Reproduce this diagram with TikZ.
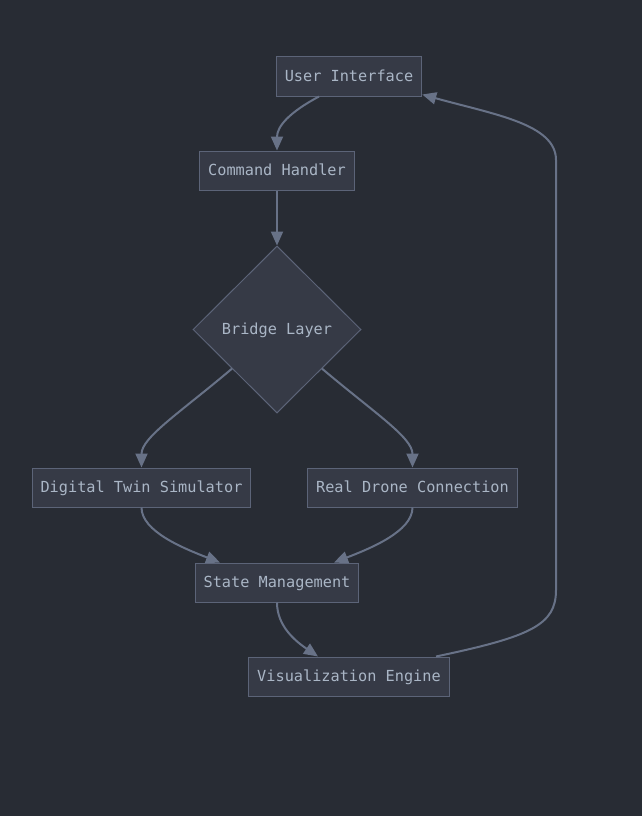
\documentclass[tikz,border=0pt]{standalone}
\usepackage{fontspec}
\setmonofont{DejaVu Sans Mono}
\usetikzlibrary{shapes.geometric, arrows.meta}
\definecolor{bgcol}{HTML}{282C34}
\definecolor{boxfill}{HTML}{363A46}
\definecolor{boxline}{HTML}{5C6478}
\definecolor{txtcol}{HTML}{AAB6C6}
\definecolor{edgecol}{HTML}{687287}

\begin{document}
\begin{tikzpicture}[x=1bp, y=-1bp,
	box/.style={draw=boxline, fill=boxfill, line width=1bp, text=txtcol,
		font=\ttfamily\fontsize{15.3}{18}\selectfont,
		text height=12.5bp, text depth=2bp,
		inner xsep=8.5bp, inner ysep=0pt, minimum height=39bp},
	decision/.style={box, diamond, aspect=1, inner sep=0pt,
		minimum width=168bp, minimum height=167bp},
	edge/.style={draw=edgecol, line width=2bp,
		-{Triangle[length=14bp, width=12bp]}}]
	\fill[bgcol] (0,0) rectangle (642,816);
	
	\node[box] (ui) at (349,76.5) {User Interface};
	\node[box] (cmd) at (277,170.5) {Command Handler};
	\node[decision] (bridge) at (277,329.5) {Bridge Layer};
	\node[box] (twin) at (141.5,487.5) {Digital Twin Simulator};
	\node[box] (drone) at (412.5,487.5) {Real Drone Connection};
	\node[box] (state) at (277,582.5) {State Management};
	\node[box] (vis) at (349,676.5) {Visualization Engine};
	
	\draw[edge] ([xshift=-30bp]ui.south) .. controls +(-30,16) and +(0,-24) .. (cmd.north);
	\draw[edge] (cmd.south) -- (bridge.north);
	\draw[edge] (bridge.221) .. controls +(-52,44) and +(0,-30) .. (twin.north);
	\draw[edge] (bridge.319) .. controls +(52,44) and +(0,-30) .. (drone.north);
	\draw[edge] (twin.south) .. controls +(0,24) and +(-36,-14) .. ([xshift=-57bp]state.north);
	\draw[edge] (drone.south) .. controls +(0,24) and +(36,-14) .. ([xshift=57bp]state.north);
	\draw[edge] (state.south) .. controls +(0,24) and +(-22,-15) .. ([xshift=-31bp]vis.north);
	\draw[edge] ([xshift=87bp]vis.north) .. controls +(95,-20) and +(0,35) .. (556,590)
		-- (556,160) .. controls (556,124) and +(72,20) .. ([yshift=2bp]ui.south east);
\end{tikzpicture}
\end{document}
